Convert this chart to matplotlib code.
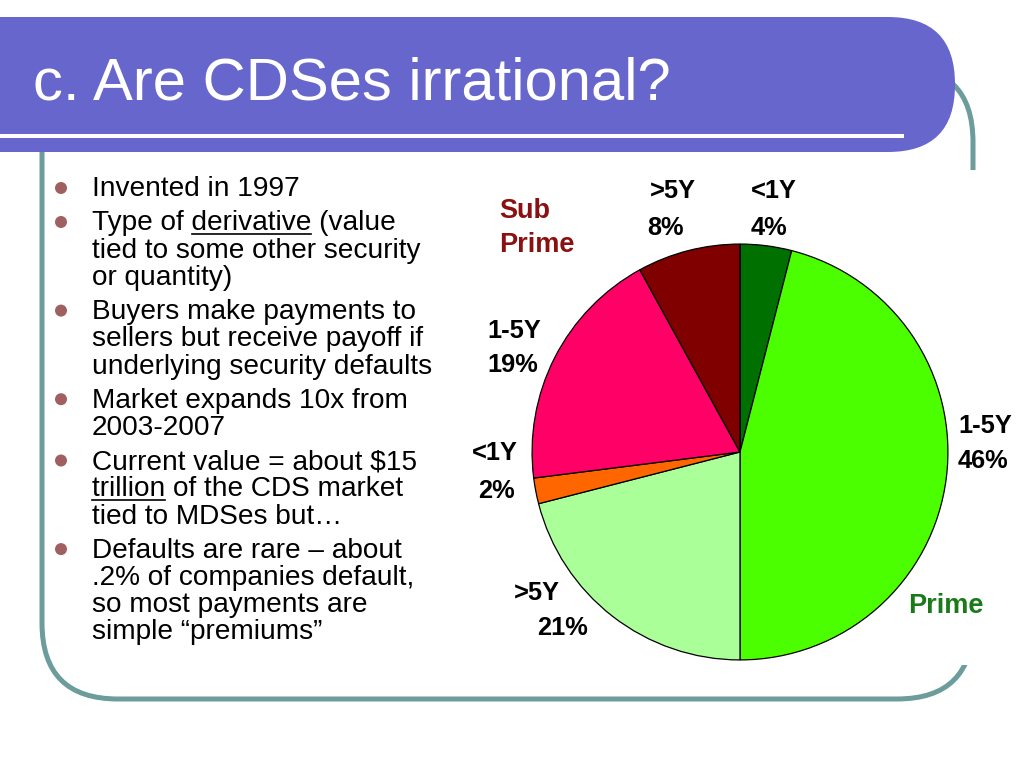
import matplotlib
matplotlib.use("Agg")
import matplotlib.pyplot as plt
from matplotlib.patches import FancyBboxPatch, Rectangle, Circle

plt.rcParams['font.family'] = ['Liberation Sans', 'DejaVu Sans']

# pie data (clockwise from 12 o'clock)
maturity = ["<1Y", "1-5Y", ">5Y", "<1Y", "1-5Y", ">5Y"]
share = [4, 46, 21, 2, 19, 8]
colors = ["#007000", "#4cff00", "#aaff99", "#ff6600", "#ff0066", "#800000"]

title = "c. Are CDSes irrational?"
bullets = [
    ["Invented in 1997"],
    ["Type of derivative (value", "tied to some other security", "or quantity)"],
    ["Buyers make payments to", "sellers but receive payoff if",
     "underlying security defaults"],
    ["Market expands 10x from", "2003-2007"],
    ["Current value = about $15", "trillion of the CDS market",
     "tied to MDSes but\u2026"],
    ["Defaults are rare \u2013 about", ".2% of companies default,",
     "so most payments are", "simple \u201cpremiums\u201d"],
]
# (bullet, line, prefix, word) to underline
underlined = [(1, 0, "Type of ", "derivative"), (4, 1, "", "trillion")]

# label positions in px (x, baseline of name, ha) -- layout only
label_pos = [(751, 198, 'left'), (958, 433, 'left'), (537, 600, 'center'),
             (495, 460, 'center'), (487, 338, 'left'), (650, 198, 'left')]
pct_pos = [(751, 235, 'left'), (958, 468, 'left'), (562, 635, 'center'),
           (496, 498, 'center'), (487, 372, 'left'), (647, 235, 'left')]

W, H = 1024, 768
fig = plt.figure(figsize=(W / 100, H / 100), dpi=100)
ax = fig.add_axes([0, 0, 1, 1])
ax.set_xlim(0, W)
ax.set_ylim(H, 0)
ax.axis('off')

teal = "#6c9c9c"
ax.add_patch(FancyBboxPatch((42, 66), 973 - 42, 699 - 66,
                            boxstyle="round,pad=0,rounding_size=76",
                            facecolor='none', edgecolor=teal, linewidth=3.6, zorder=1))
# white area of the pasted chart hides part of the frame
ax.add_patch(Rectangle((460, 170), W - 460, 665 - 170, facecolor='white',
                       edgecolor='none', zorder=2))
# title bar
ax.add_patch(FancyBboxPatch((-200, 17), 955 + 200, 152 - 17,
                            boxstyle="round,pad=0,rounding_size=67",
                            facecolor="#6666cc", edgecolor='none', zorder=3))
ax.plot([0, 904], [136, 136], color='white', linewidth=2.9,
        solid_capstyle='butt', zorder=4)
ax.text(33, 100, title, color='white', fontsize=43, va='baseline', zorder=5)

# bullet text
r = fig.canvas.get_renderer()
fs = 20.2
y = 196.5
for i, lines in enumerate(bullets):
    ax.add_patch(Circle((61, y - 8.5), 6, facecolor="#a06060", edgecolor='none'))
    for j, line in enumerate(lines):
        ax.text(92, y, line, fontsize=fs, va='baseline', color='black')
        for bi, lj, prefix, word in underlined:
            if bi == i and lj == j:
                t = ax.text(92, y, prefix + word, fontsize=fs, va='baseline')
                w_full = t.get_window_extent(r).width
                t.remove()
                t = ax.text(92, y, word, fontsize=fs, va='baseline')
                w_word = t.get_window_extent(r).width
                t.remove()
                ax.plot([92 + w_full - w_word, 92 + w_full], [y + 3.5, y + 3.5],
                        color='black', linewidth=1.2)
        y += 27.3
    y += 34 - 27.3

# pie chart
cx, cy, rad = 740, 452, 210
pax = fig.add_axes([(cx - rad) / W, 1 - (cy + rad) / H, 2 * rad / W, 2 * rad / H])
pax.pie(share, colors=colors, startangle=90, counterclock=False,
        wedgeprops=dict(edgecolor='black', linewidth=0.9))
pax.set_xlim(-1.01, 1.01)
pax.set_ylim(-1.01, 1.01)
pax.set_aspect('equal')
pax.axis('off')

for name, v, (x1, y1, ha1), (x2, y2, ha2) in zip(maturity, share, label_pos, pct_pos):
    ax.text(x1, y1, name, fontsize=18.3, fontweight='bold', ha=ha1, va='baseline')
    ax.text(x2, y2, f"{v}%", fontsize=18.3, fontweight='bold', ha=ha2, va='baseline')

ax.text(499, 218, "Sub", fontsize=19.5, fontweight='bold', color="#8b1010", va='baseline')
ax.text(499, 252, "Prime", fontsize=19.5, fontweight='bold', color="#8b1010", va='baseline')
ax.text(908, 613, "Prime", fontsize=19.5, fontweight='bold', color="#1a7a1a", va='baseline')

fig.savefig("out.png", dpi=100)
